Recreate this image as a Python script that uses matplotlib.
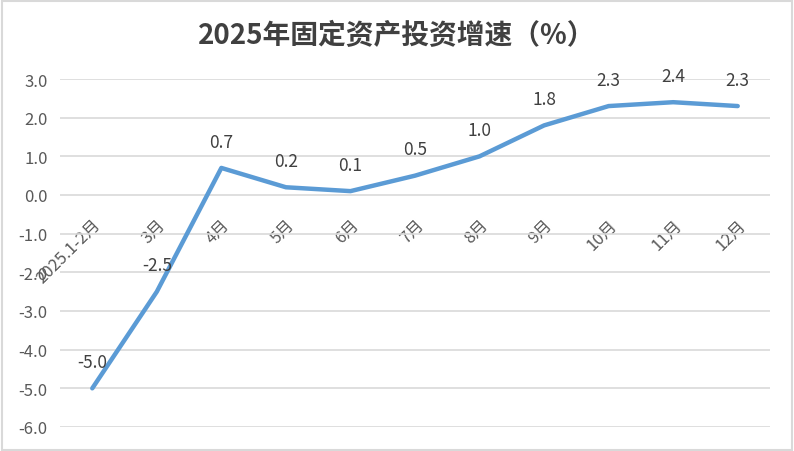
import numpy as np
import matplotlib.pyplot as plt
from matplotlib.patches import Rectangle

plt.rcParams['font.family'] = ['Noto Sans CJK SC', 'DejaVu Sans']
plt.rcParams['axes.unicode_minus'] = False

title = "2025年固定资产投资增速（%）"
months = ["2025.1-2月", "3月", "4月", "5月", "6月", "7月", "8月", "9月", "10月", "11月", "12月"]
growth = [-5.0, -2.5, 0.7, 0.2, 0.1, 0.5, 1.0, 1.8, 2.3, 2.4, 2.3]
yticks = [-6, -5, -4, -3, -2, -1, 0, 1, 2, 3]

line_color = "#5B9BD5"
text_color = "#595959"
grid_color = "#D9D9D9"


def main():
	fig = plt.figure(figsize=(7.94, 4.52), dpi=100)
	ax = fig.add_axes([60 / 794, 24 / 452, 710 / 794, 348 / 452])

	x = np.arange(len(months))
	ax.plot(x, growth, color=line_color, lw=3.2, solid_capstyle='round',
		solid_joinstyle='round', zorder=3)

	for xi, v in zip(x, growth):
		ax.annotate(f"{v:.1f}", (xi, v), xytext=(0, 19), textcoords='offset points',
			ha='center', va='center', fontsize=12.5, color="#404040", zorder=4)

	ax.set_xlim(-0.5, len(months) - 0.5)
	ax.set_ylim(-6, 3)
	ax.set_yticks(yticks, [f"{t:.1f}" for t in yticks])
	ax.yaxis.grid(True, color=grid_color, lw=1.2)
	ax.set_axisbelow(True)

	ax.spines['bottom'].set_position(('data', 0))
	for s in ax.spines.values():
		s.set_visible(False)
	ax.set_xticks(x, months, rotation=45, ha='right', rotation_mode='anchor')
	ax.tick_params(axis='x', length=0, pad=15, labelsize=12, labelcolor=text_color)
	ax.tick_params(axis='y', length=0, pad=9, labelsize=12, labelcolor=text_color)

	fig.text(0.5, 1 - 36 / 452, title, ha='center', va='center', fontsize=20,
		fontweight='bold', color="#404040")

	fig.patches.append(Rectangle((0.002, 0.003), 0.995, 0.993, transform=fig.transFigure,
		fill=False, edgecolor=grid_color, lw=1.5))

	fig.savefig("out.png", dpi=100)
	plt.close(fig)


if __name__ == "__main__":
	main()
